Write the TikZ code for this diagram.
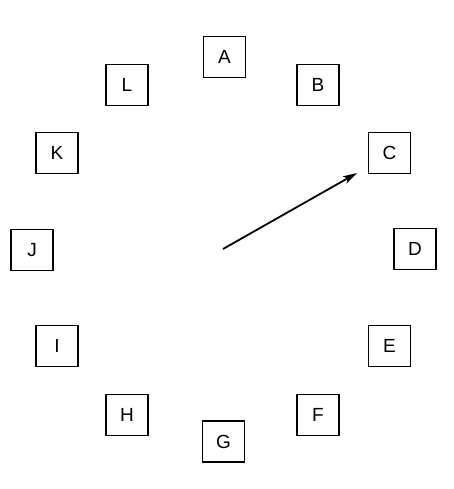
\documentclass[tikz,border=0pt]{standalone}
\usepackage{fontspec}
\setmainfont{Liberation Sans}
\usetikzlibrary{arrows.meta}
\begin{document}
\begin{tikzpicture}[x=1pt,y=-1pt,
  letterbox/.style={draw,line width=1.6pt,minimum width=42pt,minimum height=41pt,inner sep=0pt,font=\fontsize{19}{22}\selectfont},
  hand/.style={line width=1.8pt,-{Stealth[length=14pt,width=8pt,inset=3pt]}}]
\useasboundingbox (0,0) rectangle (454,489);
\node[letterbox] (A) at (224.5,57) {A};
\node[letterbox] (B) at (318,85) {B};
\node[letterbox] (C) at (389.5,153) {C};
\node[letterbox] (D) at (415,249) {D};
\node[letterbox] (E) at (389.5,346) {E};
\node[letterbox] (F) at (318,415) {F};
\node[letterbox] (G) at (223.5,441.5) {G};
\node[letterbox] (H) at (127,415) {H};
\node[letterbox] (I) at (57,346) {I};
\node[letterbox] (J) at (32,250) {J};
\node[letterbox] (K) at (57,153) {K};
\node[letterbox] (L) at (127,85) {L};
\coordinate (center) at (223,249);
\coordinate (tip) at (357,173);
\draw[hand] (center) -- (tip);
\end{tikzpicture}
\end{document}
